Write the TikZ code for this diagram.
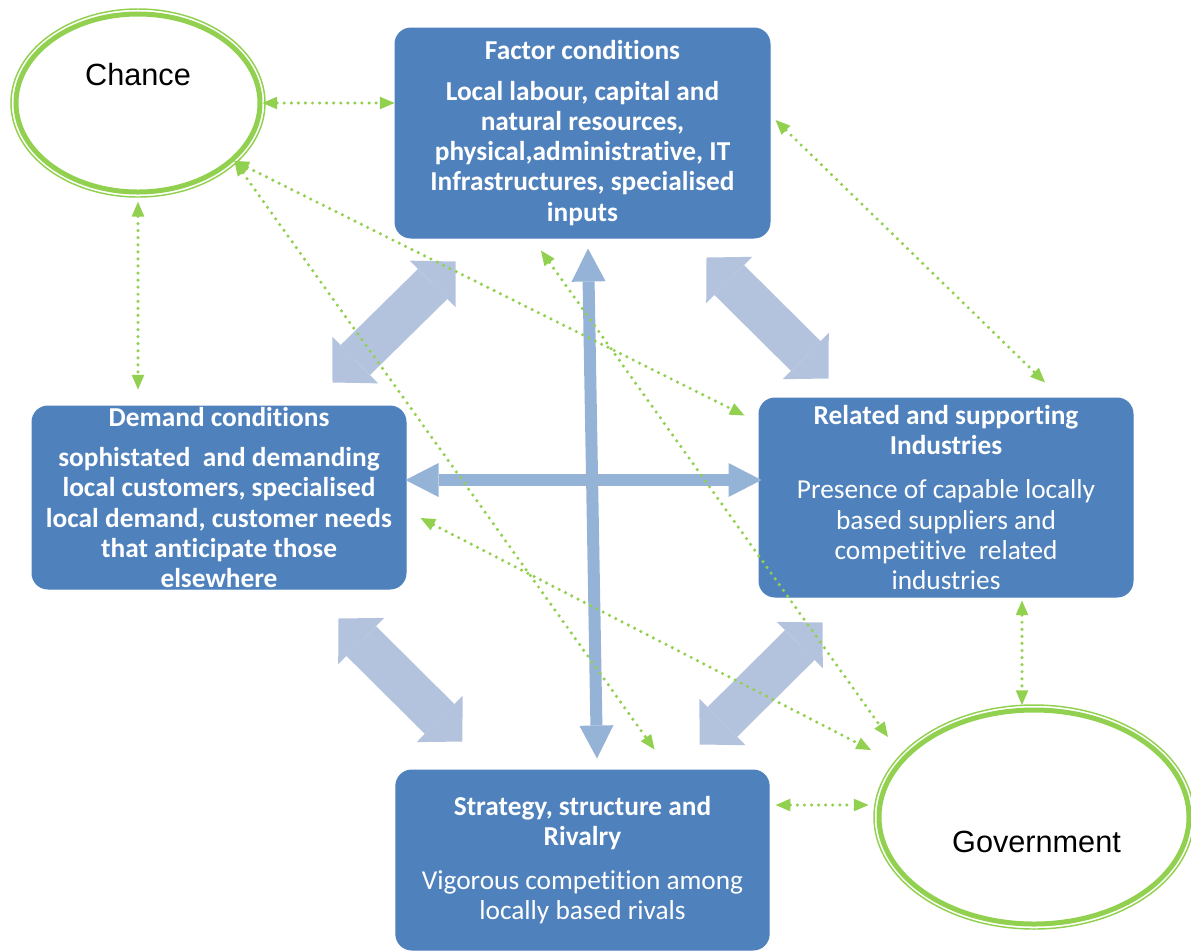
\documentclass[tikz,border=0pt]{standalone}
\usepackage{fontspec}
\setmainfont{Carlito}[RawFeature={-liga;-clig;-calt;-dlig}]
\newfontfamily\ovalfont{Liberation Sans}
\usetikzlibrary{shapes.geometric,arrows.meta,calc}

\definecolor{boxblue}{RGB}{79,129,189}
\definecolor{pushblue}{RGB}{179,195,222}
\definecolor{axisblue}{RGB}{149,179,215}
\definecolor{linkgreen}{RGB}{146,208,80}

\tikzset{every picture/.style={line width=0.75pt}}
\tikzset{
  forcebox/.style={rectangle, rounded corners=12pt, fill=boxblue, draw=boxblue, text=white,
    align=center, inner sep=0pt, font=\fontsize{20.5}{22.7}\selectfont},
  oval/.style={ellipse, draw=linkgreen, line width=3.75pt, inner sep=0pt},
  ovalrim/.style={draw=linkgreen, line width=1.1pt},
  ovaltext/.style={inner sep=0pt, font=\ovalfont\fontsize{23}{27}\selectfont},
  push/.style={draw=pushblue, line width=31.5pt, {Triangle[length=24pt,width=49pt,line width=0pt]}-{Triangle[length=24pt,width=49pt,line width=0pt]}},
  axis/.style={draw=axisblue, line width=9pt, {Triangle[length=24.75pt,width=25.5pt,line width=0pt]}-{Triangle[length=24.75pt,width=25.5pt,line width=0pt]}},
  link/.style={draw=linkgreen, line width=2.6pt, line cap=round, dash pattern=on 0pt off 5.3pt,
    {Triangle[length=11pt,width=9.5pt,line width=0pt]}-{Triangle[length=11pt,width=9.5pt,line width=0pt]}},
}

\begin{document}
\begin{tikzpicture}[x=0.75pt,y=0.75pt,yscale=-1,xscale=1]
\useasboundingbox (0,0) rectangle (1191,951);

% Chance and Government
\node[oval, minimum width=183pt, minimum height=133.5pt] (chance) at (138,103) {};
\draw[ovalrim] (chance.center) ellipse [x radius=127, y radius=94];
\node[ovaltext] (chancelabel) at ($(chance.center)+(0,-28)$) {Chance};

\node[oval, minimum width=232.5pt, minimum height=160.5pt] (government) at (1034,817) {};
\draw[ovalrim] (government.center) ellipse [x radius=160, y radius=112];
\node[ovaltext] (govlabel) at ($(government.center)+(2.5,25)$) {Government};

% the four boxes
\node[forcebox, font=\fontsize{20.5}{22.7}\selectfont\bfseries, minimum width=281.25pt, minimum height=157.5pt] (factor) at (582.5,133)
  {Factor conditions\\[7.5pt]Local labour, capital and\\natural resources,\\physical,administrative, IT\\Infrastructures, specialised\\inputs};
\node[forcebox, font=\fontsize{20.5}{22.7}\selectfont\bfseries, minimum width=280.5pt, minimum height=137.25pt] (demand) at (219,497.5)
  {Demand conditions\\[7.5pt]sophistated\ \ and demanding\\local customers, specialised\\local demand, customer needs\\that anticipate those\\elsewhere};
\node[forcebox, minimum width=280.5pt, minimum height=149.25pt] (related) at (946,497.5)
  {\textbf{Related and supporting}\\\textbf{Industries}\\[10.5pt]Presence of capable locally\\based suppliers and\\competitive\ \ related\\industries};
\node[forcebox, minimum width=280pt, minimum height=135pt] (strategy) at (582.5,860)
  {\textbf{Strategy, structure and}\\\textbf{Rivalry}\\[10.5pt]Vigorous competition among\\locally based rivals};

% block arrows
\draw[push] ($(factor.south west)+(61,23)$) -- ($(demand.north east)+(-74,-23)$);
\draw[push] ($(factor.south east)+(-64,19)$) -- ($(related.north west)+(70,-19)$);
\draw[push] ($(demand.south east)+(-68,29)$) -- ($(strategy.north west)+(67,-28)$);
\draw[push] ($(related.south west)+(64,25)$) -- ($(strategy.north east)+(-70,-25)$);
\draw[axis] ($(factor.south)+(5.5,10)$) -- ($(strategy.north)+(14.5,-11)$);
\draw[axis] ($(demand.east)+(-1,-17.5)$) -- ($(related.west)+(3,-17.5)$);

% dotted links
\draw[link] (chance.east) -- (chance.east -| factor.west);
\draw[link, shorten <=5.5pt, shorten >=12pt] (chance.south) -- (chance.south |- demand.north);
\draw[link] (chance.-31) -- ($(related.north west)+(-14,18)$);
\draw[link] (chance.-31) -- ($(strategy.north)+(72,-20)$);
\draw[link] ($(factor.south)+(-41.5,12)$) -- ($(government.west)+(11.5,-80)$);
\draw[link] ($(demand.east)+(14,20.5)$) -- ($(government.west)+(-5.5,-67)$);
\draw[link] ($(factor.east)+(5,-13)$) -- ($(related.north)+(99,-15)$);
\draw[link] ($(related.south)+(76,3)$) -- ($(government.north)+(-12,-2.5)$);
\draw[link] ($(strategy.east)+(6,-55)$) -- ($(government.west)+(-8,-12)$);

\end{tikzpicture}
\end{document}
